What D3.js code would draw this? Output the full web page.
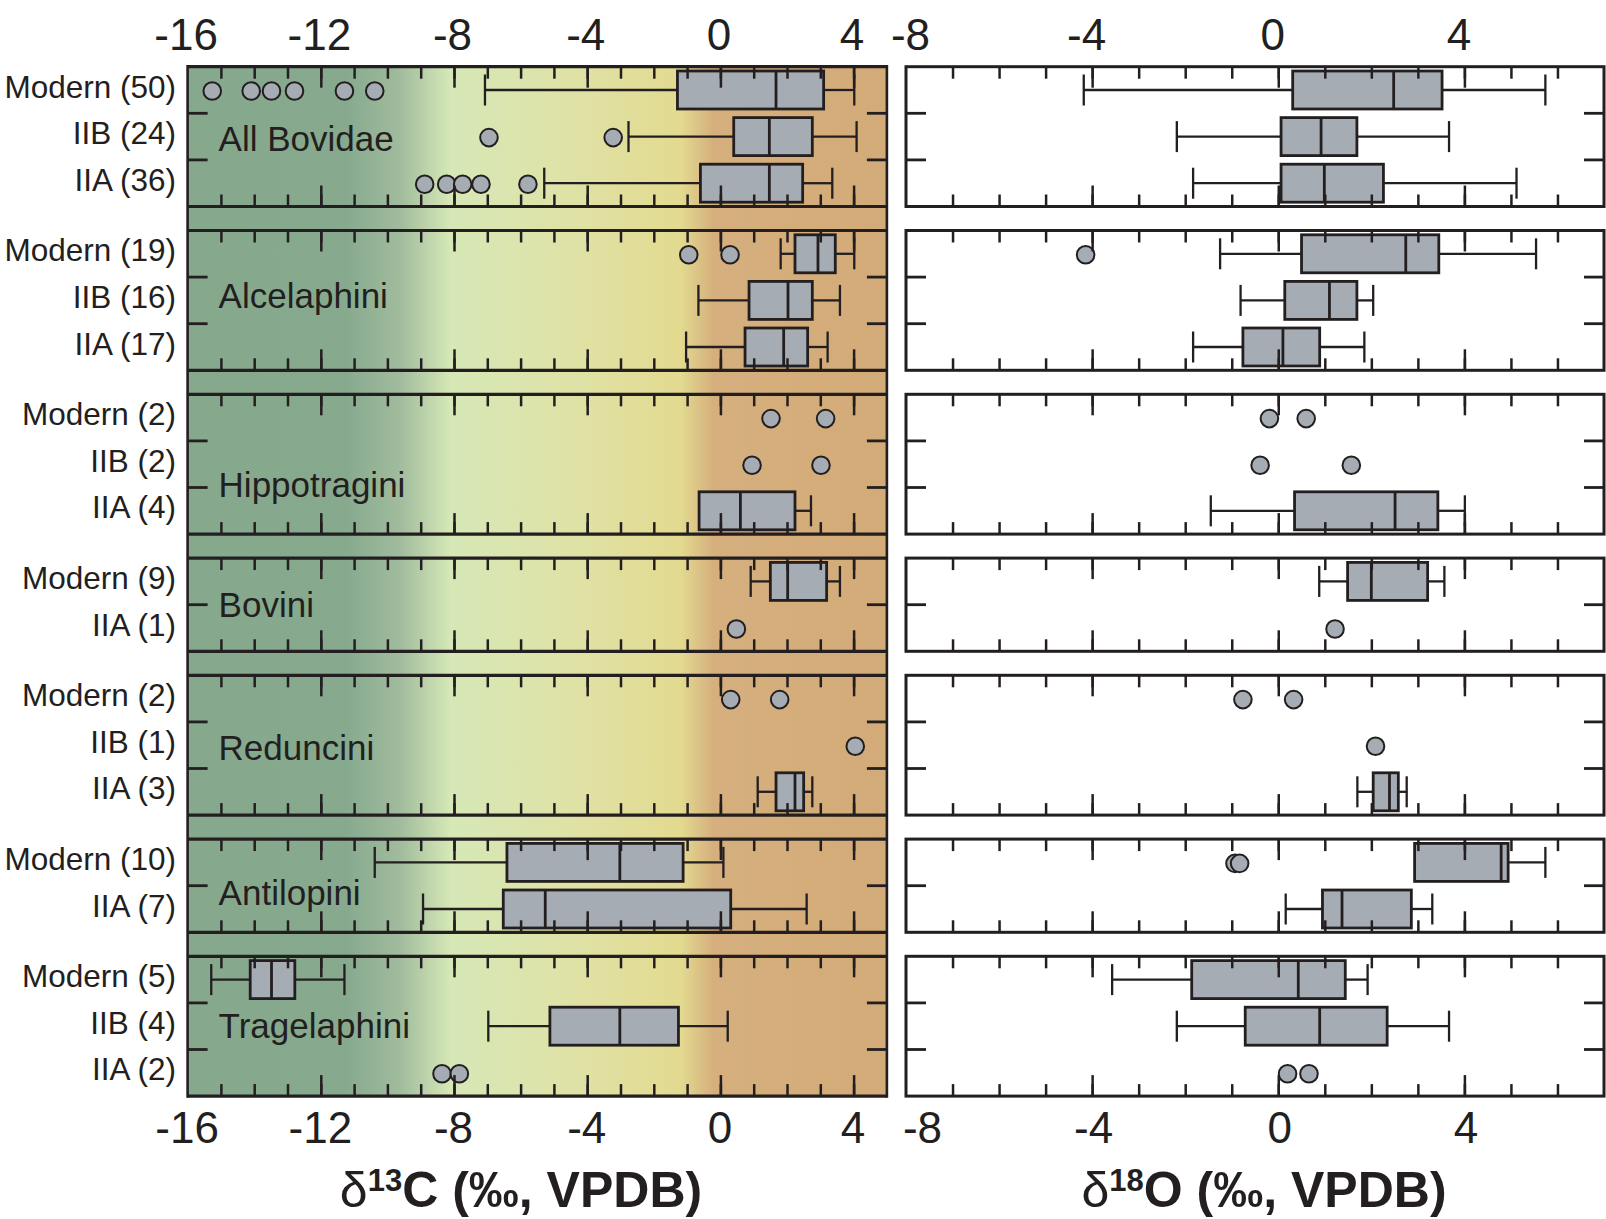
<!DOCTYPE html>
<html lang="en">
<head>
<meta charset="UTF-8">
<title>Bovid d13C and d18O</title>
<script src="https://d3js.org/d3.v7.min.js"></script>
<style>
  body { margin: 0; background: #fff; }
  text { font-family: "Liberation Sans", Arial, Helvetica, sans-serif; fill: #231f20; }
</style>
</head>
<body>
<svg id="chart" width="1606" height="1219"></svg>
<script>
    // groups and the rows inside each one
    const groups = ["All Bovidae", "Alcelaphini", "Hippotragini", "Bovini", "Reduncini", "Antilopini", "Tragelaphini"];
    const rowLabels = [
        ["Modern (50)", "IIB (24)", "IIA (36)"],
        ["Modern (19)", "IIB (16)", "IIA (17)"],
        ["Modern (2)", "IIB (2)", "IIA (4)"],
        ["Modern (9)", "IIA (1)"],
        ["Modern (2)", "IIB (1)", "IIA (3)"],
        ["Modern (10)", "IIA (7)"],
        ["Modern (5)", "IIB (4)", "IIA (2)"]
    ];

    // boxes: [low whisker, Q1, median, Q3, high whisker], null = no box
    const carbonBoxes = [
        [[-7.07, -1.29, 1.67, 3.10, 4.02], [-2.76, 0.40, 1.47, 2.76, 4.09], [-5.29, -0.60, 1.47, 2.47, 3.36]],
        [[1.81, 2.24, 2.93, 3.45, 4.02], [-0.66, 0.86, 2.03, 2.76, 3.59], [-1.03, 0.74, 1.90, 2.62, 3.22]],
        [null, null, [-0.64, -0.64, 0.60, 2.24, 2.72]],
        [[0.91, 1.50, 2.02, 3.19, 3.59], null],
        [null, null, [1.12, 1.67, 2.24, 2.50, 2.76]],
        [[-10.38, -6.41, -3.02, -1.12, 0.09], [-8.93, -6.52, -5.26, 0.31, 2.59]],
        [[-15.29, -14.12, -13.48, -12.78, -11.29], [-6.97, -5.12, -3.02, -1.26, 0.22], null]
    ];
    const carbonPoints = [
        [[-15.26, -14.09, -13.48, -12.79, -11.29, -10.38], [-6.95, -3.22], [-8.88, -8.22, -7.74, -7.19, -5.78]],
        [[-0.95, 0.29], [], []],
        [[1.52, 3.16], [0.95, 3.02], []],
        [[], [0.48]],
        [[0.31, 1.78], [4.05], []],
        [[], []],
        [[], [], [-8.36, -7.84]]
    ];
    const oxygenBoxes = [
        [[-4.18, 0.31, 2.48, 3.52, 5.74], [-2.18, 0.06, 0.92, 1.69, 3.67], [-1.83, 0.06, 0.99, 2.26, 5.12]],
        [[-1.25, 0.50, 2.74, 3.45, 5.54], [-0.81, 0.14, 1.10, 1.69, 2.04], [-1.83, -0.76, 0.10, 0.89, 1.85]],
        [null, null, [-1.45, 0.35, 2.51, 3.43, 4.01]],
        [[0.88, 1.49, 2.00, 3.21, 3.57], null],
        [null, null, [1.70, 2.04, 2.39, 2.58, 2.76]],
        [[2.93, 2.93, 4.79, 4.94, 5.74], [0.16, 0.95, 1.37, 2.86, 3.31]],
        [[-3.57, -1.86, 0.43, 1.44, 1.92], [-2.18, -0.71, 0.89, 2.34, 3.67], null]
    ];
    const oxygenPoints = [
        [[], [], []],
        [[-4.14], [], []],
        [[-0.19, 0.60], [-0.39, 1.57], []],
        [[], [1.22]],
        [[-0.76, 0.33], [2.09], []],
        [[-0.93, -0.83], []],
        [[], [], [0.20, 0.66]]
    ];

    const carbonTicks = [-16, -12, -8, -4, 0, 4];
    const oxygenTicks = [-8, -4, 0, 4];

    const ink = "#231f20";
    const boxFill = "#a6acb3";
    const svg = d3.select("#chart");

    const xC = d3.scaleLinear().domain([-16, 5]).range([187.6, 886.9]);
    const xO = d3.scaleLinear().domain([-8, 7]).range([906, 1604]);

    // panel layout: equal rows, fixed gap between groups
    const topY = 66.7, rowH = 46.6, gapH = 24;
    let cursor = topY;
    const panels = rowLabels.map(labels => {
        const top = cursor, bottom = top + labels.length * rowH;
        cursor = bottom + gapH;
        return { top, bottom, y: d3.scaleBand().domain(labels).range([top, bottom]) };
    });
    const plotTop = panels[0].top;
    const plotBottom = panels[panels.length - 1].bottom;

    // C3 -> C4 background of the carbon side
    const gradStops = [[-16, "#86a98e"], [-11.2, "#87aa8f"], [-9.6, "#a1bc9d"], [-8.1, "#d6e8b7"],
                       [-4.5, "#dfe2a6"], [-1.2, "#e3da90"], [-0.2, "#d5af7d"], [5, "#d3ab79"]];
    const grad = svg.append("defs").append("linearGradient")
        .attr("id", "c4grad")
        .attr("gradientUnits", "userSpaceOnUse")
        .attr("x1", xC(-16)).attr("x2", xC(5)).attr("y1", 0).attr("y2", 0);
    grad.selectAll("stop").data(gradStops).join("stop")
        .attr("offset", d => (d[0] + 16) / 21)
        .attr("stop-color", d => d[1]);

    svg.append("rect")
        .attr("x", xC(-16)).attr("y", plotTop)
        .attr("width", xC(5) - xC(-16)).attr("height", plotBottom - plotTop)
        .attr("fill", "url(#c4grad)");

    function drawMarks(x, boxes, points) {
        panels.forEach((p, i) => {
            const g = svg.append("g");
            rowLabels[i].forEach((lab, j) => {
                const cy = p.y(lab) + p.y.bandwidth() / 2;
                const b = boxes[i][j];
                if (b) {
                    const [lo, q1, md, q3, hi] = b;
                    g.append("line").attr("x1", x(lo)).attr("x2", x(q1)).attr("y1", cy).attr("y2", cy);
                    g.append("line").attr("x1", x(q3)).attr("x2", x(hi)).attr("y1", cy).attr("y2", cy);
                    if (lo < q1) g.append("line").attr("x1", x(lo)).attr("x2", x(lo)).attr("y1", cy - 15.5).attr("y2", cy + 15.5);
                    if (hi > q3) g.append("line").attr("x1", x(hi)).attr("x2", x(hi)).attr("y1", cy - 15.5).attr("y2", cy + 15.5);
                    g.append("rect")
                        .attr("x", x(q1)).attr("width", x(q3) - x(q1))
                        .attr("y", cy - 19).attr("height", 38)
                        .attr("fill", boxFill).attr("stroke", ink).attr("stroke-width", 2.8);
                    g.append("line").attr("x1", x(md)).attr("x2", x(md))
                        .attr("y1", cy - 19).attr("y2", cy + 19).attr("stroke-width", 2.8);
                }
                g.selectAll(null).data(points[i][j]).join("circle")
                    .attr("cx", d => x(d)).attr("cy", cy + 1).attr("r", 8.8)
                    .attr("fill", boxFill).attr("stroke", ink).attr("stroke-width", 2);
            });
            g.selectAll("line").attr("stroke", ink).filter(function () {
                return !this.getAttribute("stroke-width");
            }).attr("stroke-width", 2.3);
        });
    }

    function drawFrameTicks(x, minor, major) {
        const [x0, x1] = x.range();
        panels.forEach((p, i) => {
            [[d3.axisBottom, p.top], [d3.axisTop, p.bottom]].forEach(([axis, yy]) => {
                [[minor, 12], [major, 21]].forEach(([vals, len]) => {
                    svg.append("g")
                        .attr("transform", `translate(0,${yy})`)
                        .call(axis(x).tickValues(vals).tickSize(len).tickFormat(""))
                        .call(g => g.select(".domain").remove())
                        .call(g => g.selectAll("line").attr("stroke", ink).attr("stroke-width", 2.5));
                });
            });
            // row separators on both sides
            const bounds = rowLabels[i].slice(1).map(l => p.y(l));
            svg.append("g").selectAll("line").data(bounds.flatMap(b => [[x0, x0 + 20, b], [x1 - 20, x1, b]]))
                .join("line")
                .attr("x1", d => d[0]).attr("x2", d => d[1])
                .attr("y1", d => d[2]).attr("y2", d => d[2])
                .attr("stroke", ink).attr("stroke-width", 2.8);
        });
    }

    drawMarks(xC, carbonBoxes, carbonPoints);
    drawMarks(xO, oxygenBoxes, oxygenPoints);

    drawFrameTicks(xC, d3.range(-15, 5), [-12, -8, -4, 0, 4]);
    drawFrameTicks(xO, d3.range(-7, 7), [-4, 0, 4]);

    // frames
    panels.forEach(p => {
        svg.append("g").selectAll("line").data([p.top, p.bottom]).join("line")
            .attr("x1", xC(-16)).attr("x2", xC(5))
            .attr("y1", d => d).attr("y2", d => d)
            .attr("stroke", ink).attr("stroke-width", 3.2);
        svg.append("rect")
            .attr("x", xO(-8)).attr("y", p.top)
            .attr("width", xO(7) - xO(-8)).attr("height", p.bottom - p.top)
            .attr("fill", "none").attr("stroke", ink).attr("stroke-width", 3);
    });
    svg.append("g").selectAll("line").data([xC(-16), xC(5)]).join("line")
        .attr("x1", d => d).attr("x2", d => d)
        .attr("y1", plotTop - 1.6).attr("y2", plotBottom + 1.6)
        .attr("stroke", ink).attr("stroke-width", 2.6);

    // tick labels
    function tickLabels(axis, x, vals, yy, dxFn) {
        svg.append("g")
            .attr("transform", `translate(0,${yy})`)
            .call(axis(x).tickValues(vals).tickSize(0).tickPadding(0).tickFormat(d => String(d)))
            .call(g => g.select(".domain").remove())
            .call(g => g.selectAll("text")
                .attr("font-size", 44).attr("y", 0).attr("dy", 0)
                .attr("dx", dxFn));
    }
    tickLabels(d3.axisTop, xC, carbonTicks, 50, -2);
    tickLabels(d3.axisBottom, xC, carbonTicks, 1143, -1);
    tickLabels(d3.axisTop, xO, oxygenTicks, 50, d => d === -8 ? 4 : -6);
    tickLabels(d3.axisBottom, xO, oxygenTicks, 1143, d => d === -8 ? 16 : 1);

    // row labels
    panels.forEach((p, i) => {
        svg.append("g").selectAll("text").data(rowLabels[i]).join("text")
            .attr("x", 176)
            .attr("y", d => p.y(d) + p.y.bandwidth() / 2 + 7.5)
            .attr("text-anchor", "end")
            .attr("font-size", 31.5)
            .text(d => d);
    });

    // group names inside the carbon panels
    const labelShift = [2, -5, 20, 0, 2, 7, -1];
    svg.append("g").selectAll("text").data(groups).join("text")
        .attr("x", xC(-16) + 31)
        .attr("y", (d, i) => (panels[i].top + panels[i].bottom) / 2 + labelShift[i] + 12.5)
        .attr("font-size", 35)
        .text(d => d);

    // axis titles
    function axisTitle(cx, iso, el) {
        const t = svg.append("text")
            .attr("x", cx).attr("y", 1207)
            .attr("text-anchor", "middle")
            .attr("font-size", 50);
        t.append("tspan").text("\u03B4");
        t.append("tspan").attr("font-weight", "bold").attr("font-size", 31).attr("dy", -16).text(iso);
        t.append("tspan").attr("font-weight", "bold").attr("dy", 16).text(el + " (\u2030, VPDB)");
    }
    axisTitle(521, "13", "C");
    axisTitle(1264, "18", "O");
</script>
</body>
</html>
